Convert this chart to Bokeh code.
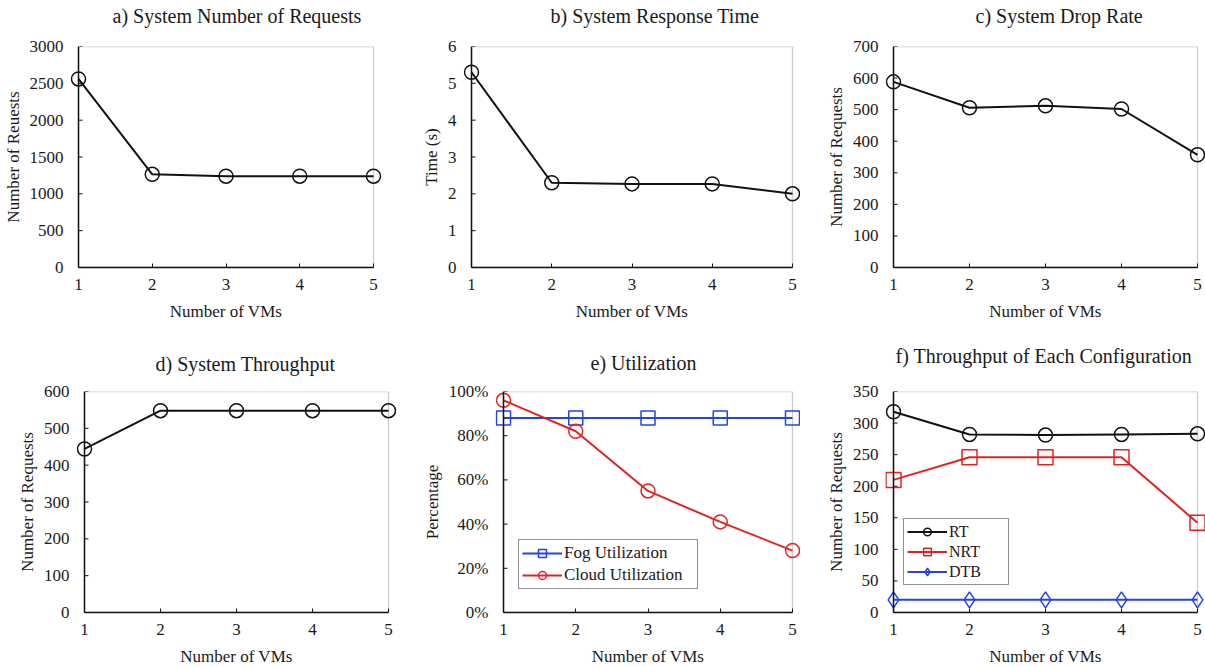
from bokeh.plotting import figure
from bokeh.layouts import column, row
from bokeh.models import (FixedTicker, NumeralTickFormatter, Range1d, Legend,
                          LegendItem, BoxAnnotation, Span, Title)
from bokeh.embed import file_html
from bokeh.resources import INLINE

# ---------------- data ----------------
vms = [1, 2, 3, 4, 5]
sys_requests = [2560, 1265, 1240, 1240, 1240]
response_time = [5.3, 2.3, 2.27, 2.27, 2.0]
drop_rate = [588, 506, 512, 502, 357]
throughput = [444, 548, 548, 548, 548]
fog_util = [0.88, 0.88, 0.88, 0.88, 0.88]
cloud_util = [0.96, 0.82, 0.55, 0.41, 0.28]
rt_tp = [318, 282, 281, 282, 283]
nrt_tp = [210, 246, 246, 246, 142]
dtb_tp = [20, 20, 20, 20, 20]

ticks_a = [0, 500, 1000, 1500, 2000, 2500, 3000]
ticks_b = [0, 1, 2, 3, 4, 5, 6]
ticks_c = [0, 100, 200, 300, 400, 500, 600, 700]
ticks_d = [0, 100, 200, 300, 400, 500, 600]
ticks_e = [0, 0.2, 0.4, 0.6, 0.8, 1.0]
ticks_f = [0, 50, 100, 150, 200, 250, 300, 350]

FONT = "Liberation Serif"
TXT = "#1a1a1a"
BLACK = "#111111"
RED = "#e02424"
BLUE = "#2443e0"
PAD = 8  # px of room beyond x=1 and x=5 so edge markers are not clipped


def panel(title, ylabel, yticks, fw, fh, bl, br, bt, bb, t_left, gap, pct=False):
    lo, hi = vms[0], vms[-1]
    pad_u = PAD * (hi - lo) / fw
    p = figure(frame_width=fw + 2 * PAD, frame_height=fh,
               min_border_left=bl - PAD, min_border_right=max(br - PAD, 0),
               min_border_top=bt, min_border_bottom=bb,
               x_range=Range1d(lo - pad_u, hi + pad_u),
               y_range=Range1d(yticks[0], yticks[-1]),
               title=None, output_backend="svg", toolbar_location=None)
    p.xgrid.visible = False
    p.ygrid.visible = False
    p.outline_line_color = None
    p.background_fill_color = "white"
    p.border_fill_color = "white"

    # spacer (nearest the frame), then the title above it
    p.add_layout(Title(text=" ", text_font_size="2px", standoff=gap), "above")
    p.add_layout(Title(text=title, align="left", offset=t_left - (bl - PAD),
                       standoff=0, text_font=FONT, text_font_size="20px",
                       text_font_style="normal", text_color=TXT), "above")

    # frame box between x=1 and x=5 (gray top/right edges)
    p.add_layout(BoxAnnotation(left=lo, right=hi, bottom=yticks[0], top=yticks[-1],
                               fill_alpha=0, line_color="#5a5a5a", line_width=1.3,
                               level="underlay"))
    # y axis line at x=1
    p.add_layout(Span(location=lo, dimension="height", line_color=BLACK,
                      line_width=1.5))
    # inward y ticks at x=1
    p.ray(x=[lo] * len(yticks), y=yticks, length=4, angle=0,
          length_units="screen", line_color=BLACK, line_width=1)

    p.xaxis.ticker = FixedTicker(ticks=vms)
    p.xaxis.bounds = (lo, hi)
    p.yaxis.ticker = FixedTicker(ticks=yticks)
    if pct:
        p.yaxis.formatter = NumeralTickFormatter(format="0%")
    p.xaxis.axis_label = "Number of VMs"
    p.yaxis.axis_label = ylabel
    for ax in (p.xaxis[0], p.yaxis[0]):
        ax.axis_line_color = BLACK
        ax.axis_line_width = 1.5
        ax.major_tick_line_color = BLACK
        ax.minor_tick_line_color = None
        ax.major_label_text_font = FONT
        ax.major_label_text_font_size = "17px"
        ax.major_label_text_color = TXT
        ax.axis_label_text_font = FONT
        ax.axis_label_text_font_size = "17px"
        ax.axis_label_text_font_style = "normal"
        ax.axis_label_text_color = TXT
    p.yaxis.axis_line_color = None
    p.yaxis.major_tick_line_color = None
    p.xaxis.major_tick_in = 4
    p.xaxis.major_tick_out = 0
    p.yaxis.major_tick_in = 0
    p.yaxis.major_tick_out = 0
    p.xaxis.major_label_standoff = 11
    p.xaxis.axis_label_standoff = 9
    p.yaxis.major_label_standoff = 7
    p.yaxis.axis_label_standoff = 4
    return p


def series(p, y, color, marker, size):
    l = p.line(vms, y, line_color=color, line_width=2)
    m = p.scatter(vms, y, marker=marker, size=size, fill_color="white",
                  fill_alpha=0, line_color=color, line_width=1.5)
    return [l, m]


def legend(p, items, loc, label_w, lh, sp, fs):
    lg = Legend(items=[LegendItem(label=t, renderers=r) for t, r in items],
                location=loc)
    lg.border_line_color = "#222222"
    lg.border_line_width = 1.2
    lg.label_text_font = FONT
    lg.label_text_font_size = fs
    lg.label_text_color = TXT
    lg.glyph_width = 40
    lg.glyph_height = lh
    lg.label_height = lh
    lg.label_width = label_w
    lg.label_standoff = 2
    lg.spacing = sp
    lg.padding = 3
    lg.margin = 0
    lg.background_fill_color = "white"
    lg.background_fill_alpha = 1
    p.add_layout(lg)


# Row 1 (title left positions are measured from each figure's own left edge)
pa = panel("a) System Number of Requests", "Number of Reuests", ticks_a,
           295, 221, 78, 27, 46, 63, 112, 16)
series(pa, sys_requests, BLACK, "circle", 14)

pb = panel("b) System Response Time", "Time (s)", ticks_b,
           321, 221, 71, 8, 46, 63, 150, 16)
series(pb, response_time, BLACK, "circle", 14)

pc = panel("c) System Drop Rate", "Number of Requests", ticks_c,
           304, 221, 93, 8, 46, 63, 175, 16)
series(pc, drop_rate, BLACK, "circle", 14)

# Row 2
pd = panel("d) System Throughput", "Number of Requests", ticks_d,
           304, 221, 84, 12, 61, 55, 155, 13)
series(pd, throughput, BLACK, "circle", 14)

pe = panel("e) Utilization", "Percentage", ticks_e,
           289, 221, 103, 8, 61, 55, 190, 14, pct=True)
fog_r = series(pe, fog_util, BLUE, "square", 14)
cloud_r = series(pe, cloud_util, RED, "circle", 14)
legend(pe, [("Fog Utilization", fog_r), ("Cloud Utilization", cloud_r)],
       (23, 23), 130, 20, 2, "17px")

pf = panel("f) Throughput of Each Configuration", "Number of Requests", ticks_f,
           304, 221, 93, 8, 61, 55, 95, 21)
rt_r = series(pf, rt_tp, BLACK, "circle", 14)
nrt_r = series(pf, nrt_tp, RED, "square", 15)
dtb_r = series(pf, dtb_tp, BLUE, "diamond", 16)
legend(pf, [("RT", rt_r), ("NRT", nrt_r), ("DTB", dtb_r)], (18, 27), 56, 19, 1, "16px")

layout = column(row(pa, pb, pc), row(pd, pe, pf))
open("out.html", "w").write(file_html(layout, INLINE))
